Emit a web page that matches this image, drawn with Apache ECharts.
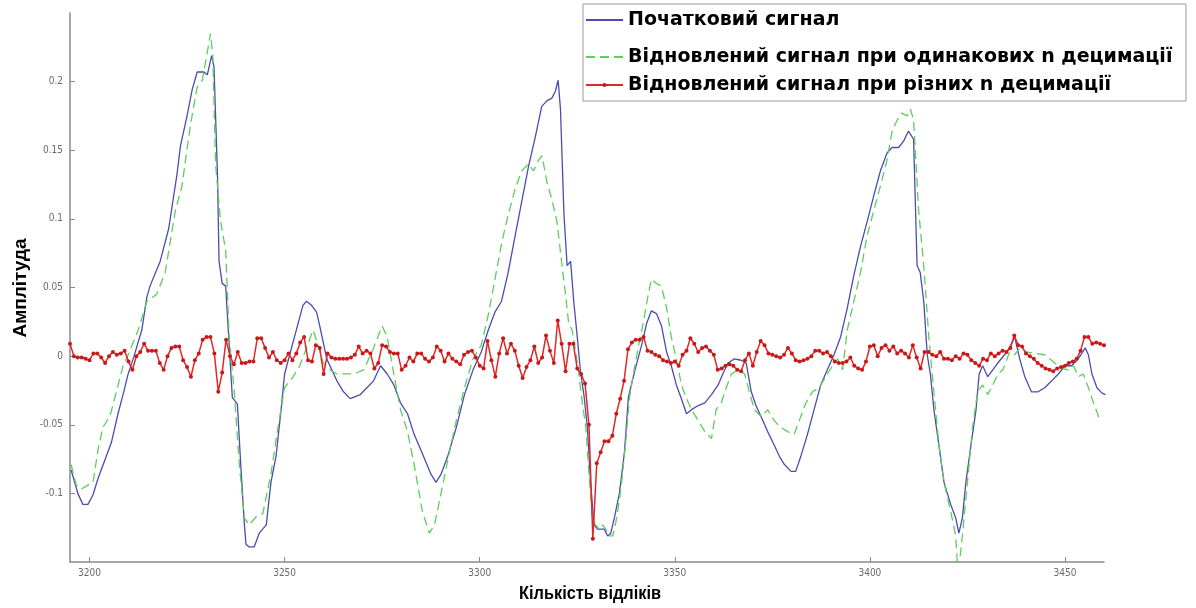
<!DOCTYPE html>
<html>
<head>
<meta charset="utf-8">
<script src="https://cdn.jsdelivr.net/npm/echarts@6/dist/echarts.min.js"></script>
<style>
  html, body { margin: 0; padding: 0; background: #fff; }
  #chart { width: 1196px; height: 608px; }
</style>
</head>
<body>
<div id="chart"></div>
<script>
// Sample index range shown on the x axis
const xMin = 3195;
const xMax = 3460;
const xTicks = [3200, 3250, 3300, 3350, 3400, 3450];
const yTicks = [-0.1, -0.05, 0, 0.05, 0.1, 0.15, 0.2];

const xTitle = 'Кількість відліків';
const yTitle = 'Амплітуда';
const seriesNames = [
  'Початковий сигнал',
  'Відновлений сигнал при одинакових n децимації',
  'Відновлений сигнал при різних n децимації'
];

// Original signal: [sample, amplitude]
const originalSignal = [
  [3195.3,-0.083],[3197.0,-0.100],[3198.3,-0.108],[3199.6,-0.108],[3200.9,-0.101],[3202.2,-0.089],[3203.9,-0.076],[3205.6,-0.063],
  [3207.3,-0.042],[3208.6,-0.028],[3209.9,-0.013],[3211.2,-0.002],[3213.4,0.019],[3214.7,0.043],[3215.5,0.051],[3218.1,0.069],
  [3220.3,0.093],[3222.4,0.132],[3223.3,0.153],[3225.0,0.175],[3226.3,0.194],[3227.6,0.207],[3229.3,0.207],[3230.2,0.205],
  [3231.3,0.219],[3231.9,0.211],[3232.8,0.132],[3233.2,0.069],[3234.0,0.053],[3234.9,0.051],[3235.8,0.008],[3236.6,-0.030],
  [3237.9,-0.035],[3238.8,-0.081],[3239.7,-0.123],[3240.1,-0.137],[3240.9,-0.139],[3242.2,-0.139],[3243.5,-0.129],[3245.3,-0.123],
  [3246.5,-0.092],[3247.8,-0.073],[3249.1,-0.039],[3250.0,-0.013],[3251.3,0.001],[3253.0,0.019],[3254.7,0.037],[3255.6,0.040],
  [3256.9,0.037],[3258.2,0.032],[3259.0,0.022],[3260.8,-0.002],[3262.1,-0.010],[3263.4,-0.018],[3265.1,-0.026],[3266.8,-0.031],
  [3269.4,-0.028],[3271.1,-0.023],[3272.8,-0.018],[3274.6,-0.007],[3276.3,-0.013],[3278.0,-0.021],[3279.7,-0.034],[3281.5,-0.042],
  [3283.2,-0.057],[3285.3,-0.071],[3287.5,-0.086],[3288.8,-0.092],[3290.1,-0.086],[3291.8,-0.073],[3294.0,-0.052],[3296.1,-0.028],
  [3298.3,-0.010],[3300.4,0.003],[3302.2,0.019],[3303.9,0.032],[3305.6,0.040],[3307.3,0.061],[3309.1,0.088],[3311.2,0.119],
  [3312.5,0.138],[3314.2,0.159],[3315.9,0.182],[3317.2,0.186],[3318.5,0.188],[3319.4,0.193],[3320.1,0.201],[3320.7,0.180],
  [3321.6,0.103],[3322.4,0.066],[3323.3,0.069],[3324.1,0.040],[3325.0,0.014],[3325.9,-0.013],[3326.7,-0.028],[3327.6,-0.052],
  [3328.4,-0.092],[3329.3,-0.123],[3330.2,-0.126],[3331.0,-0.126],[3331.9,-0.126],[3332.8,-0.131],[3333.6,-0.129],[3334.5,-0.118],
  [3335.8,-0.100],[3337.1,-0.070],[3338.1,-0.030],[3339.8,-0.010],[3341.5,0.008],[3342.8,0.024],[3344.0,0.033],[3345.3,0.031],
  [3346.6,0.022],[3347.9,0.003],[3349.1,-0.007],[3350.4,-0.021],[3351.7,-0.031],[3353.0,-0.042],[3354.3,-0.039],[3356.0,-0.036],
  [3357.7,-0.034],[3359.4,-0.028],[3361.1,-0.021],[3362.3,-0.013],[3363.6,-0.005],[3365.3,-0.002],[3367.0,-0.003],[3368.3,-0.005],
  [3369.6,-0.026],[3370.8,-0.036],[3372.1,-0.044],[3373.8,-0.055],[3375.5,-0.065],[3376.8,-0.073],[3378.1,-0.079],[3379.8,-0.084],
  [3381.0,-0.084],[3382.3,-0.073],[3384.0,-0.057],[3385.7,-0.039],[3387.4,-0.021],[3389.1,-0.010],[3390.8,0.001],[3392.5,0.014],
  [3394.2,0.035],[3395.9,0.059],[3397.6,0.080],[3399.3,0.098],[3401.0,0.117],[3402.7,0.135],[3404.4,0.148],[3405.7,0.152],
  [3407.4,0.152],[3408.7,0.157],[3409.9,0.164],[3411.2,0.158],[3412.1,0.066],[3412.9,0.061],[3413.8,0.040],[3414.7,0.001],
  [3415.5,-0.013],[3416.4,-0.039],[3417.7,-0.065],[3419.0,-0.092],[3420.7,-0.108],[3422.0,-0.118],[3422.8,-0.129],[3423.7,-0.118],
  [3424.6,-0.092],[3425.9,-0.065],[3427.2,-0.039],[3428.0,-0.013],[3428.9,-0.007],[3430.2,-0.015],[3431.5,-0.010],[3432.8,-0.005],
  [3434.5,0.001],[3435.8,0.006],[3437.1,0.014],[3438.4,-0.002],[3439.7,-0.015],[3441.4,-0.026],[3443.1,-0.026],[3444.8,-0.023],
  [3446.6,-0.018],[3448.3,-0.013],[3450.0,-0.007],[3451.7,-0.007],[3453.4,-0.002],[3455.2,0.006],[3456.0,0.001],[3456.9,-0.013],
  [3458.2,-0.023],[3459.5,-0.027],[3460.4,-0.028]
];

// Reconstruction with equal decimation factors: [sample, amplitude]
const equalDecimation = [
  [3195.3,-0.079],[3196.6,-0.094],[3197.8,-0.097],[3199.6,-0.094],[3200.9,-0.092],[3202.2,-0.068],[3203.4,-0.052],[3205.2,-0.044],
  [3206.9,-0.026],[3208.6,-0.007],[3209.9,0.001],[3212.5,0.019],[3214.7,0.040],[3217.2,0.045],[3219.4,0.061],[3222.0,0.106],
  [3223.7,0.124],[3225.9,0.169],[3227.6,0.196],[3228.9,0.201],[3230.4,0.225],[3231.0,0.235],[3231.6,0.219],[3232.3,0.140],
  [3233.6,0.098],[3234.9,0.077],[3235.8,0.014],[3237.1,-0.026],[3238.4,-0.079],[3239.7,-0.118],[3240.9,-0.123],[3242.7,-0.117],
  [3244.4,-0.115],[3246.5,-0.086],[3248.3,-0.052],[3250.0,-0.023],[3252.2,-0.015],[3253.9,-0.007],[3255.6,0.006],[3257.3,0.019],
  [3258.6,0.008],[3259.9,-0.005],[3261.6,-0.010],[3263.4,-0.013],[3265.5,-0.013],[3267.7,-0.013],[3270.3,-0.010],[3272.8,0.006],
  [3275.0,0.022],[3276.3,0.014],[3278.0,-0.013],[3279.7,-0.039],[3281.5,-0.055],[3283.2,-0.079],[3285.3,-0.113],[3287.1,-0.129],
  [3288.4,-0.123],[3290.1,-0.100],[3291.8,-0.076],[3294.0,-0.047],[3296.1,-0.023],[3298.3,-0.002],[3300.4,0.008],[3302.2,0.030],
  [3303.9,0.056],[3305.6,0.082],[3307.3,0.103],[3309.1,0.122],[3310.8,0.135],[3312.5,0.140],[3313.8,0.135],[3315.1,0.143],
  [3316.0,0.146],[3317.2,0.127],[3318.5,0.114],[3319.8,0.098],[3321.1,0.066],[3322.0,0.045],[3322.8,0.024],[3323.7,0.019],
  [3324.6,0.003],[3325.4,-0.013],[3326.3,-0.034],[3327.2,-0.052],[3328.0,-0.086],[3328.9,-0.118],[3329.7,-0.123],[3330.6,-0.126],
  [3331.5,-0.123],[3332.3,-0.126],[3333.2,-0.131],[3334.1,-0.131],[3334.9,-0.121],[3335.8,-0.105],[3336.6,-0.086],[3337.5,-0.060],
  [3338.4,-0.030],[3339.4,-0.013],[3340.6,0.006],[3341.9,0.024],[3343.2,0.045],[3344.0,0.056],[3345.3,0.053],[3346.6,0.051],
  [3347.9,0.035],[3349.1,0.014],[3350.4,-0.002],[3351.7,-0.021],[3353.0,-0.031],[3354.3,-0.039],[3356.0,-0.047],[3357.7,-0.055],
  [3359.4,-0.060],[3360.6,-0.039],[3361.9,-0.034],[3363.2,-0.023],[3364.5,-0.013],[3366.2,-0.010],[3367.9,-0.013],[3369.1,-0.026],
  [3370.4,-0.039],[3372.1,-0.044],[3373.8,-0.039],[3375.5,-0.047],[3377.2,-0.052],[3378.9,-0.055],[3380.6,-0.057],[3381.9,-0.047],
  [3383.6,-0.034],[3385.3,-0.026],[3387.0,-0.023],[3388.7,-0.015],[3390.4,-0.007],[3391.7,-0.002],[3393.0,-0.010],[3394.2,0.019],
  [3395.9,0.040],[3397.6,0.061],[3399.3,0.088],[3401.0,0.106],[3402.7,0.124],[3404.4,0.143],[3405.7,0.164],[3407.0,0.172],
  [3408.2,0.177],[3409.5,0.175],[3410.4,0.180],[3411.2,0.172],[3412.5,0.106],[3413.8,0.066],[3415.1,0.014],[3416.4,-0.026],
  [3417.7,-0.065],[3419.0,-0.092],[3420.7,-0.113],[3422.0,-0.131],[3422.6,-0.160],[3423.0,-0.160],[3423.7,-0.131],[3425.0,-0.092],
  [3426.3,-0.052],[3427.6,-0.026],[3428.9,-0.021],[3430.2,-0.028],[3431.5,-0.021],[3432.8,-0.013],[3434.1,-0.010],[3435.8,0.003],
  [3437.1,0.001],[3438.4,0.006],[3440.1,0.003],[3442.2,0.002],[3444.8,0.001],[3447.4,-0.005],[3449.1,-0.009],[3450.9,-0.010],
  [3452.2,-0.007],[3453.4,-0.015],[3454.7,-0.013],[3456.0,-0.023],[3457.3,-0.034],[3458.6,-0.044],[3459.5,-0.047]
];

// Reconstruction with different decimation factors: one value per sample from diffStart
const diffStart = 3195;
const diffDecimation = [
  0.009,0.000,-0.001,-0.001,-0.002,-0.003,0.002,0.002,-0.001,-0.005,
  0.000,0.003,0.001,0.002,0.004,-0.004,-0.010,0.000,0.003,0.009,
  0.004,0.004,0.004,-0.005,-0.010,0.000,0.006,0.007,0.007,-0.003,
  -0.008,-0.015,-0.003,0.002,0.012,0.014,0.014,0.002,-0.026,-0.012,
  0.012,0.000,-0.006,0.003,-0.005,-0.005,-0.004,-0.004,0.013,0.013,
  0.006,-0.001,0.003,-0.003,-0.005,-0.003,0.002,-0.003,0.002,0.010,
  0.014,-0.003,-0.004,0.008,0.006,-0.013,0.002,-0.001,-0.002,-0.002,
  -0.002,-0.002,-0.001,0.001,0.007,0.002,0.004,0.002,-0.009,-0.005,
  0.008,0.007,0.003,0.002,0.002,-0.010,
  -0.007,-0.001,-0.004,0.002,0.002,-0.002,-0.004,-0.001,0.007,0.004,
  -0.004,0.002,-0.002,-0.004,-0.006,0.001,0.003,0.004,-0.001,-0.007,
  -0.009,0.011,-0.003,-0.015,0.002,0.013,0.002,0.009,0.004,-0.007,
  -0.016,-0.008,-0.003,0.007,-0.005,-0.001,0.015,0.004,-0.005,0.026,
  0.009,-0.011,0.009,0.009,-0.009,-0.013,
  -0.020,-0.050,-0.133,-0.078,-0.070,-0.062,-0.062,-0.058,-0.042,-0.031,
  -0.018,0.005,0.010,0.012,0.012,0.014,0.004,0.003,0.001,0.000,
  -0.003,-0.004,-0.005,-0.004,-0.007,0.001,0.004,0.013,0.009,0.003,
  0.006,0.007,0.004,0.001,-0.010,-0.009,-0.007,-0.006,-0.007,-0.010,
  -0.011,-0.003,0.002,-0.007,0.003,0.011,0.008,0.002,0.001,0.000,
  -0.001,0.001,0.006,0.002,-0.003,-0.004,-0.003,-0.002,0.000,0.004,
  0.004,0.002,0.003,0.000,-0.004,-0.005,-0.005,-0.004,-0.001,-0.007,
  -0.009,-0.010,-0.004,0.007,0.008,0.000,0.006,0.008,0.004,0.007,
  0.002,0.004,0.002,-0.001,0.008,-0.001,-0.009,0.003,0.003,0.001,
  0.000,0.003,-0.002,-0.002,-0.003,0.000,-0.002,0.002,0.001,-0.003,
  -0.005,-0.007,-0.002,-0.003,0.002,0.000,0.002,0.004,0.003,0.006,
  0.015,0.008,0.007,0.002,0.000,-0.002,-0.005,-0.007,-0.009,-0.010,
  -0.011,-0.009,-0.008,-0.007,-0.005,-0.004,-0.002,0.004,0.014,0.014,
  0.009,0.010,0.009,0.008
];

const axisGray = '#8a8a8a';
const tickFont = { color: '#6a6a6a', fontSize: 10, fontFamily: '"DejaVu Sans Condensed", "Liberation Sans", sans-serif' };
const legendFont = { color: '#000', fontWeight: 'bold', fontSize: 19, lineHeight: 22, fontFamily: '"DejaVu Sans", sans-serif' };

const chart = echarts.init(document.getElementById('chart'), null, { renderer: 'canvas' });

const legendRows = [9, 46, 74];
const legendMarkerHidden = [true, true, false];

chart.setOption({
  backgroundColor: '#ffffff',
  animation: false,
  grid: { left: 70, right: 92, top: 13, bottom: 46, containLabel: false },
  xAxis: {
    type: 'value', min: xMin, max: xMax,
    axisLine: { show: true, onZero: false, lineStyle: { color: axisGray, width: 1.5 } },
    axisTick: { show: true, inside: true, length: 5, customValues: xTicks, lineStyle: { color: axisGray } },
    axisLabel: Object.assign({ customValues: xTicks, margin: 6, formatter: v => String(Math.round(v)) }, tickFont),
    splitLine: { show: false }
  },
  yAxis: {
    type: 'value', min: -0.15, max: 0.25,
    axisLine: { show: true, onZero: false, lineStyle: { color: axisGray, width: 1.5 } },
    axisTick: { show: true, inside: true, length: 5, customValues: yTicks, lineStyle: { color: axisGray } },
    axisLabel: Object.assign({ customValues: yTicks, margin: 7, formatter: v => String(parseFloat(Number(v).toFixed(3))) }, tickFont),
    splitLine: { show: false }
  },
  graphic: [
    {
      // legend frame
      type: 'rect', z: 90,
      shape: { x: 583, y: 4, width: 603, height: 97 },
      style: { fill: '#ffffff', stroke: '#9a9a9a', lineWidth: 1 }
    },
    {
      // x axis title, set in a condensed bold face
      type: 'text', x: 590, y: 594, scaleX: 0.86,
      style: {
        text: xTitle, fill: '#000', textAlign: 'center', textVerticalAlign: 'middle',
        font: 'bold 19px "Liberation Sans", Arial, sans-serif'
      }
    },
    {
      // y axis title, rotated
      type: 'text', x: 21, y: 288, rotation: Math.PI / 2,
      style: {
        text: yTitle, fill: '#000', textAlign: 'center', textVerticalAlign: 'middle',
        font: 'bold 19px "Liberation Sans", Arial, sans-serif'
      }
    }
  ],
  legend: seriesNames.map((name, i) => ({
    data: [name], left: 585, top: legendRows[i], padding: 0, z: 100,
    itemWidth: 37, itemHeight: legendMarkerHidden[i] ? 14 : 5, selectedMode: false,
    itemStyle: legendMarkerHidden[i] ? { opacity: 0 } : {},
    textStyle: legendFont
  })),
  series: [
    {
      name: seriesNames[0], type: 'line', data: originalSignal,
      symbol: 'none', clip: true, z: 2,
      lineStyle: { color: '#4c4cae', width: 1.3 }, itemStyle: { color: '#4c4cae' }
    },
    {
      name: seriesNames[1], type: 'line', data: equalDecimation,
      symbol: 'none', clip: true, z: 3,
      lineStyle: { color: '#5ccf5c', width: 1.3, type: [9, 5] }, itemStyle: { color: '#5ccf5c' }
    },
    {
      name: seriesNames[2], type: 'line',
      data: diffDecimation.map((v, i) => [diffStart + i, v]),
      symbol: 'circle', symbolSize: 4, clip: true, z: 4,
      lineStyle: { color: '#e32626', width: 1.5 }, itemStyle: { color: '#c81818' }
    }
  ]
});
</script>
</body>
</html>
